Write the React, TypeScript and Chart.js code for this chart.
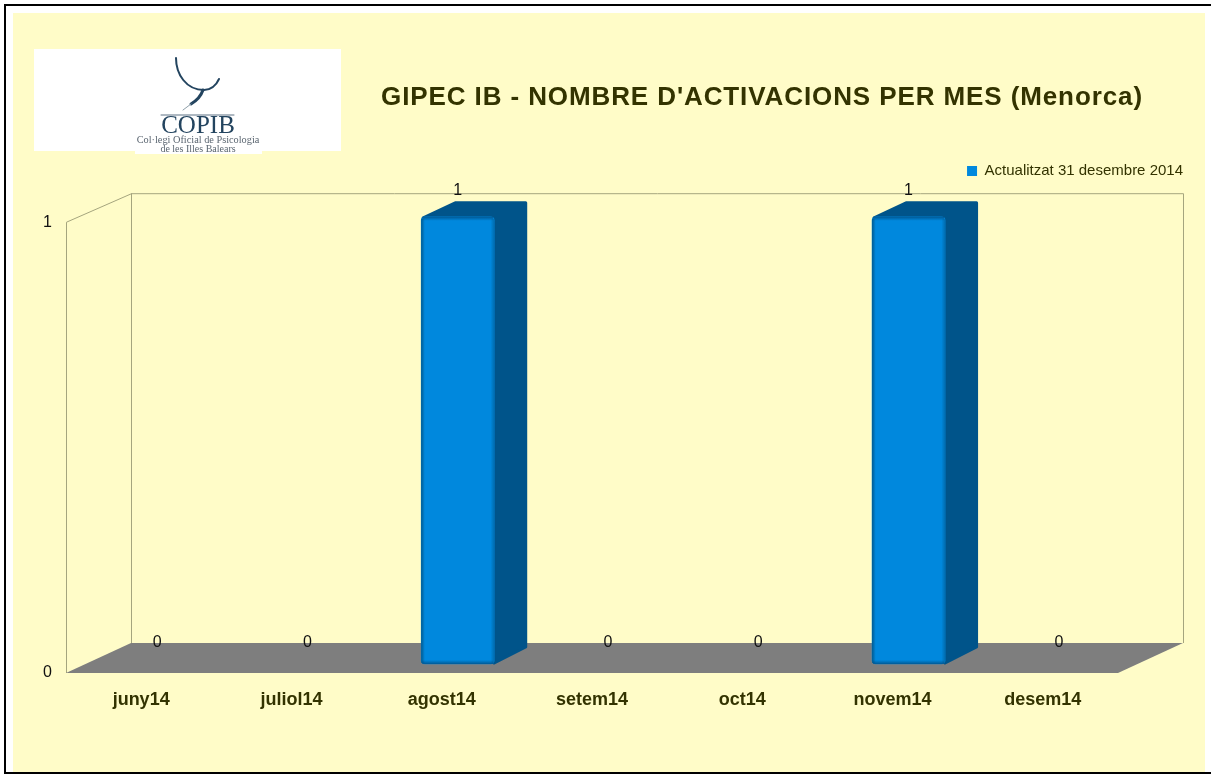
import React, { useEffect, useRef } from "react";
import { Chart, registerables } from "chart.js";

Chart.register(...registerables);

const categories = ["juny14", "juliol14", "agost14", "setem14", "oct14", "novem14", "desem14"];
const activations = [0, 0, 1, 0, 0, 1, 0];
const seriesName = "Actualitzat 31 desembre 2014";
const titleText = "GIPEC IB - NOMBRE D'ACTIVACIONS PER MES (Menorca)";

const SANS = "'Liberation Sans', Arial, sans-serif";
const SERIF = "'Liberation Serif', serif";
const TEXT = "#333300";
const BLUE = "#0088DD";
const DARK = "#00548A";
const WALL = "#A5A57E";

// projection of the fake 3D box
const WALL_DX = 65;
const WALL_DY = -30;
const BAR_DX = 16;
const BAR_DEPTH_X = 33;
const BAR_DEPTH_Y = 15.5;
const BAR_BOTTOM_SHIFT = -9;
const BAR_SCALE_Y = 0.992;

const frame3d = {
  id: "frame3d",
  beforeDraw(chart: any) {
    const { ctx, width, height } = chart;
    ctx.save();
    ctx.fillStyle = "#ffffff";
    ctx.fillRect(0, 0, width, height);
    ctx.fillStyle = "#FFFCC8";
    ctx.fillRect(13, 13, 1192, height - 13);
    ctx.fillStyle = "#000000";
    ctx.fillRect(4, 4, width - 4, 2);
    ctx.fillRect(4, 4, 2, height - 4);
    ctx.fillRect(4, 772, width - 4, 2);

    // logo
    ctx.fillStyle = "#ffffff";
    ctx.fillRect(34, 49, 307, 102);
    ctx.fillRect(135, 150, 127, 4);
    ctx.strokeStyle = "#23445F";
    ctx.lineCap = "round";
    ctx.lineWidth = 2;
    ctx.beginPath();
    ctx.moveTo(176, 58);
    ctx.bezierCurveTo(176, 74, 186, 90, 204, 90);
    ctx.bezierCurveTo(210, 90, 216, 86, 219, 79);
    ctx.stroke();
    ctx.lineWidth = 3;
    ctx.beginPath();
    ctx.moveTo(203, 90);
    ctx.bezierCurveTo(201, 96, 196, 101, 191, 104);
    ctx.stroke();
    ctx.strokeStyle = "#8FA0AA";
    ctx.lineWidth = 1;
    ctx.beginPath();
    ctx.moveTo(191, 104);
    ctx.lineTo(183, 110);
    ctx.stroke();
    ctx.strokeStyle = "#5F7385";
    ctx.beginPath();
    ctx.moveTo(161, 115);
    ctx.lineTo(234, 115);
    ctx.stroke();
    ctx.textAlign = "center";
    ctx.textBaseline = "middle";
    ctx.fillStyle = "#23445F";
    ctx.font = `25px ${SERIF}`;
    ctx.fillText("COPIB", 198, 126);
    ctx.fillStyle = "#5A6570";
    ctx.font = `10.3px ${SERIF}`;
    ctx.fillText("Col·legi Oficial de Psicologia", 198, 140.5);
    ctx.font = `10px ${SERIF}`;
    ctx.fillText("de les Illes Balears", 198, 149.5);
    ctx.restore();
  },
  beforeDatasetsDraw(chart: any) {
    const { ctx, chartArea: a } = chart;
    const meta = chart.getDatasetMeta(0);
    const backTop = a.top + WALL_DY + 1;
    const backBottom = a.bottom + WALL_DY;
    const backLeft = a.left + WALL_DX;
    const backRight = a.right + WALL_DX;
    ctx.save();
    ctx.strokeStyle = WALL;
    ctx.lineWidth = 1;
    ctx.beginPath();
    ctx.moveTo(a.left + 0.5, a.bottom);
    ctx.lineTo(a.left + 0.5, a.top);
    ctx.lineTo(backLeft + 0.5, backTop + 0.5);
    ctx.lineTo(backRight + 0.5, backTop + 0.5);
    ctx.lineTo(backRight + 0.5, backBottom);
    ctx.moveTo(backLeft + 0.5, backTop);
    ctx.lineTo(backLeft + 0.5, backBottom);
    ctx.stroke();
    ctx.fillStyle = "#7E7E7E";
    ctx.beginPath();
    ctx.moveTo(a.left, a.bottom);
    ctx.lineTo(backLeft, backBottom);
    ctx.lineTo(backRight, backBottom);
    ctx.lineTo(a.right, a.bottom);
    ctx.closePath();
    ctx.fill();

    // side and top of each bar
    meta.data.forEach((bar: any, i: number) => {
      if (!activations[i]) return;
      const x0 = bar.x - bar.width / 2 + BAR_DX;
      const x1 = bar.x + bar.width / 2 + BAR_DX;
      const yBase = bar.base * BAR_SCALE_Y + (a.bottom * (1 - BAR_SCALE_Y) + BAR_BOTTOM_SHIFT);
      const yTop = bar.y * BAR_SCALE_Y + (a.bottom * (1 - BAR_SCALE_Y) + BAR_BOTTOM_SHIFT);
      ctx.lineJoin = "round";
      ctx.lineWidth = 3;
      ctx.fillStyle = DARK;
      ctx.strokeStyle = DARK;
      ctx.beginPath();
      ctx.moveTo(x0 + 2, yTop + 1);
      ctx.lineTo(x0 + BAR_DEPTH_X + 1, yTop - BAR_DEPTH_Y + 1.5);
      ctx.lineTo(x1 + BAR_DEPTH_X - 1.5, yTop - BAR_DEPTH_Y + 1.5);
      ctx.lineTo(x1 + BAR_DEPTH_X - 1.5, yBase - BAR_DEPTH_Y - 1.5);
      ctx.lineTo(x1, yBase - 1);
      ctx.closePath();
      ctx.fill();
      ctx.stroke();
    });
    ctx.restore();
  },
  beforeDatasetDraw(chart: any) {
    const { ctx, chartArea: a } = chart;
    ctx.save();
    ctx.transform(1, 0, 0, BAR_SCALE_Y, BAR_DX, a.bottom * (1 - BAR_SCALE_Y) + BAR_BOTTOM_SHIFT);
  },
  afterDatasetDraw(chart: any) {
    const { ctx } = chart;
    const meta = chart.getDatasetMeta(0);
    meta.data.forEach((bar: any, i: number) => {
      if (!activations[i]) return;
      const x0 = bar.x - bar.width / 2;
      const x1 = bar.x + bar.width / 2;
      const h = bar.base - bar.y;
      const gh = ctx.createLinearGradient(x0, 0, x1, 0);
      gh.addColorStop(0, "rgba(0,70,110,0.7)");
      gh.addColorStop(0.05, "rgba(0,70,110,0)");
      gh.addColorStop(0.95, "rgba(0,70,110,0)");
      gh.addColorStop(1, "rgba(0,70,110,0.4)");
      ctx.fillStyle = gh;
      ctx.fillRect(x0, bar.y + 2, bar.width, h - 3);
      const gv = ctx.createLinearGradient(0, bar.y, 0, bar.base);
      const e = 4 / h;
      gv.addColorStop(0, "rgba(0,70,120,0.7)");
      gv.addColorStop(e, "rgba(0,70,120,0)");
      gv.addColorStop(1 - e, "rgba(0,70,120,0)");
      gv.addColorStop(1, "rgba(0,70,120,0.7)");
      ctx.fillStyle = gv;
      ctx.fillRect(x0 + 1, bar.y, bar.width - 2, h);
    });
    ctx.restore();
  },
  afterDatasetsDraw(chart: any) {
    const { ctx } = chart;
    const meta = chart.getDatasetMeta(0);
    ctx.save();
    ctx.fillStyle = "#111111";
    ctx.font = `16px ${SANS}`;
    ctx.textAlign = "center";
    ctx.textBaseline = "middle";
    meta.data.forEach((bar: any, i: number) => {
      ctx.fillText(String(activations[i]), bar.x + BAR_DX, bar.y - 30 - activations[i] * 1.5);
    });
    ctx.restore();
  },
  afterLayout(chart: any) {
    const title = chart.titleBlock;
    if (title) {
      title.left = 381;
      title.right = 1143;
      if (!title.__spaced) {
        title.__spaced = true;
        const drawTitle = title.draw.bind(title);
        title.draw = (...args: any[]) => {
          const c = chart.ctx;
          c.save();
          c.letterSpacing = "0.9px";
          drawTitle(...args);
          c.restore();
        };
      }
    }
    const legend = chart.legend;
    if (legend) {
      legend.right = 1183 + 10;
      legend.top = 153.5;
    }
  },
};

export default function App() {
  const ref = useRef<HTMLCanvasElement>(null);
  useEffect(() => {
    document.body.style.margin = "0";
    const chart = new Chart(ref.current as HTMLCanvasElement, {
      type: "bar",
      data: {
        labels: categories,
        datasets: [
          {
            label: seriesName,
            data: activations,
            backgroundColor: (c: any) => (c.raw === 0 ? "rgba(0,0,0,0)" : BLUE),
            borderWidth: 0,
            borderRadius: 4,
            borderSkipped: false,
            barThickness: 73,
            clip: false,
          } as any,
        ],
      },
      options: {
        responsive: false,
        animation: false,
        layout: { padding: { left: 0, right: 93, top: 0, bottom: 0 } },
        plugins: {
          tooltip: { enabled: false },
          title: {
            display: true,
            text: titleText,
            align: "center",
            color: TEXT,
            font: { family: SANS, size: 26, weight: "bold" },
            padding: { top: 82, bottom: 74 },
          },
          legend: {
            display: true,
            position: "top",
            align: "end",
            labels: {
              boxWidth: 10,
              boxHeight: 10,
              padding: 10,
              color: TEXT,
              font: { family: SANS, size: 15 },
              generateLabels: (chart: any) =>
                (Chart.defaults.plugins.legend.labels as any)
                  .generateLabels(chart)
                  .map((item: any) => ({ ...item, fillStyle: BLUE })),
            },
          },
        },
        scales: {
          x: {
            grid: { display: false, drawTicks: false },
            border: { display: false },
            ticks: {
              color: TEXT,
              font: { family: SANS, size: 18, weight: "bold" },
              padding: 16,
              maxRotation: 0,
            },
            afterFit: (s: any) => {
              s.height = 101;
            },
          },
          y: {
            min: 0,
            max: 1,
            grid: { display: false, drawTicks: false },
            border: { display: false },
            ticks: {
              stepSize: 1,
              color: "#111111",
              font: { family: SANS, size: 16 },
              padding: 14,
            },
            afterFit: (s: any) => {
              s.width = 66;
            },
          },
        },
      },
      plugins: [frame3d],
    } as any);
    return () => chart.destroy();
  }, []);
  return <canvas ref={ref} width={1211} height={774} style={{ display: "block" }} />;
}
